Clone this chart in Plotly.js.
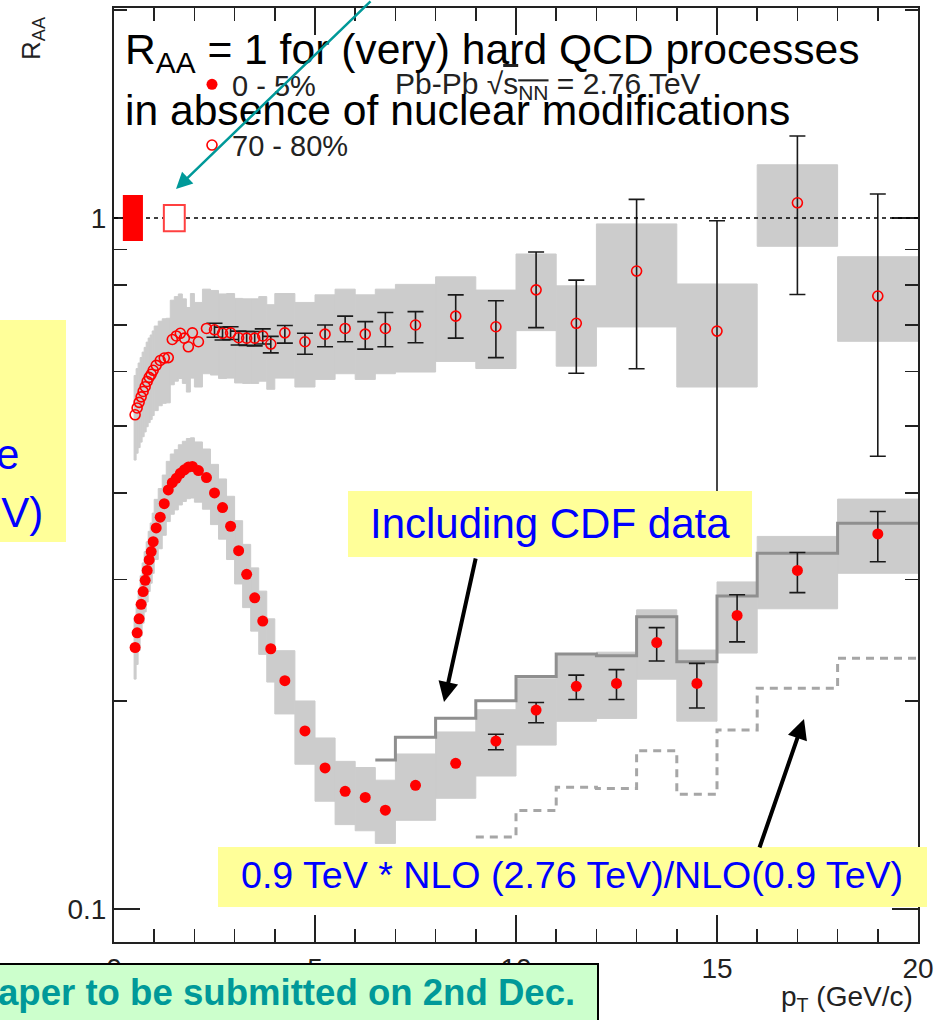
<!DOCTYPE html>
<html><head><meta charset="utf-8">
<script src="https://cdn.plot.ly/plotly-3.0.1.min.js"></script>
<style>html,body{margin:0;padding:0;background:#fff}#chart{width:939px;height:1020px}</style>
</head><body><div id="chart"></div>
<script>
// ---------- data ----------
const _ = NaN; // no visible statistical error bar
const ptCentral = [0.525,0.575,0.625,0.675,0.725,0.775,0.825,0.875,0.925,0.975,
  1.05,1.15,1.25,1.35,1.45,1.55,1.65,1.75,1.85,1.95,
  2.1,2.3,2.5,2.7,2.9,3.1,3.3,3.5,3.7,3.9,
  4.25,4.75,5.25,5.75,6.25,6.75,
  7.5,8.5,9.5,10.5,11.5,12.5,13.5,14.5,15.5,17,19];
const binWidthCentral = [0.05,0.05,0.05,0.05,0.05,0.05,0.05,0.05,0.05,0.05,
  0.1,0.1,0.1,0.1,0.1,0.1,0.1,0.1,0.1,0.1,
  0.2,0.2,0.2,0.2,0.2,0.2,0.2,0.2,0.2,0.2,
  0.5,0.5,0.5,0.5,0.5,0.5,
  1,1,1,1,1,1,1,1,1,2,2];
const raaCentral = [0.239,0.251,0.263,0.276,0.288,0.299,0.309,0.320,0.329,0.340,
  0.356,0.369,0.386,0.404,0.414,0.420,0.427,0.432,0.436,0.437,
  0.431,0.421,0.400,0.381,0.358,0.330,0.305,0.282,0.261,0.238,
  0.214,0.181,0.160,0.148,0.145,0.139,
  0.151,0.1625,0.175,0.194,0.210,0.212,0.243,0.212,0.266,0.309,0.349];
const statCentralUp = [_,_,_,_,_,_,_,_,_,_,
  _,_,_,_,_,_,_,_,_,_,
  _,_,_,_,_,_,_,_,_,_,
  _,_,_,_,_,_,
  _,_,0.004,0.005,0.008,0.010,0.0124,0.0147,0.019,0.019,0.027];
const statCentralDown = [_,_,_,_,_,_,_,_,_,_,
  _,_,_,_,_,_,_,_,_,_,
  _,_,_,_,_,_,_,_,_,_,
  _,_,_,_,_,_,
  _,_,0.005,0.008,0.009,0.011,0.0145,0.0166,0.0225,0.022,0.031];
const sysCentralRel = [0.10,0.10,0.10,0.10,0.10,0.10,0.10,0.10,0.10,0.10,
  0.10,0.10,0.10,0.10,0.10,0.10,0.10,0.10,0.10,0.10,
  0.10,0.10,0.10,0.10,0.105,0.105,0.105,0.105,0.105,0.105,
  0.105,0.105,0.105,0.105,0.105,0.105,
  0.11,0.11,0.11,0.11,0.11,0.11,0.115,0.118,0.118,0.12,0.123];

const ptPeripheral = [0.525,0.575,0.625,0.675,0.725,0.775,0.825,0.875,0.925,0.975,
  1.05,1.15,1.25,1.35,1.45,1.55,1.65,1.75,1.85,1.95,
  2.1,2.3,2.5,2.7,2.9,3.1,3.3,3.5,3.7,3.9,
  4.25,4.75,5.25,5.75,6.25,6.75,
  7.5,8.5,9.5,10.5,11.5,13,15,17,19];
const binWidthPeripheral = [0.05,0.05,0.05,0.05,0.05,0.05,0.05,0.05,0.05,0.05,
  0.1,0.1,0.1,0.1,0.1,0.1,0.1,0.1,0.1,0.1,
  0.2,0.2,0.2,0.2,0.2,0.2,0.2,0.2,0.2,0.2,
  0.5,0.5,0.5,0.5,0.5,0.5,
  1,1,1,1,1,2,2,2,2];
const raaPeripheral = [0.519,0.531,0.541,0.551,0.561,0.570,0.580,0.588,0.594,0.602,
  0.612,0.622,0.627,0.628,0.667,0.675,0.681,0.670,0.651,0.682,
  0.662,0.692,0.689,0.681,0.682,0.671,0.670,0.670,0.675,0.657,
  0.682,0.662,0.679,0.692,0.679,0.692,
  0.700,0.721,0.696,0.787,0.704,0.838,0.686,1.052,0.771];
const statPeripheralUp = [_,_,_,_,_,_,_,_,_,_,
  _,_,_,_,_,_,_,_,_,_,
  _,_,0.015,0.014,0.014,0.015,0.015,0.015,0.016,0.017,
  0.017,0.019,0.021,0.029,0.029,0.038,
  0.032,0.053,0.063,0.106,0.109,0.226,0.305,0.262,0.312];
const statPeripheralDown = [_,_,_,_,_,_,_,_,_,_,
  _,_,_,_,_,_,_,_,_,_,
  _,_,0.017,0.015,0.015,0.016,0.016,0.017,0.018,0.019,
  0.023,0.027,0.028,0.030,0.033,0.041,
  0.040,0.051,0.068,0.093,0.108,0.233,0.305,0.277,0.319];
const sysPeripheralRel = [0.14,0.14,0.14,0.14,0.14,0.14,0.14,0.14,0.14,0.14,
  0.14,0.14,0.14,0.14,0.14,0.14,0.14,0.14,0.14,0.14,
  0.14,0.14,0.14,0.14,0.14,0.14,0.14,0.14,0.14,0.14,
  0.14,0.14,0.14,0.14,0.14,0.14,
  0.145,0.14,0.13,0.127,0.133,0.17,0.17,0.135,0.14];

// reference curves (step histograms, bin edges + bin values)
const cdfEdges = [6.5,7,8,9,10,11,12,13,14,15,16,18,20];
const cdfRef = [0.1643,0.1772,0.1888,0.2001,0.2169,0.2339,0.2326,0.2649,0.2279,0.2838,0.3271,0.3615];
const nloEdges = [9,10,11,12,13,14,15,16,18,20];
const nloRef = [0.1271,0.1388,0.150,0.1494,0.1694,0.1466,0.1816,0.2087,0.2305];

// normalisation uncertainty boxes at R_AA = 1
const normX = [0.47, 1.5];
const normWidth = [0.5, 0.52];
const normLo = [0.926, 0.957];
const normHi = [1.08, 1.044];

const xTickVals = [0,5,10,15,20];
const yTickVals = [0.1, 1];
const yTickText = ['0.1', '1'];
const yMinorVals = [0.2,0.3,0.4,0.5,0.6,0.7,0.8,0.9,2];

// ---------- helpers ----------
const FONT = 'Liberation Sans, Arial, Helvetica, sans-serif';
const L = 114, R = 918, T = 8, B = 942;
const PX = p => (p - L) / (R - L);
const PY = p => (B - p) / (B - T);

function sysBars(x, w, v, rel) {
  return {
    type: 'bar', x: x, width: w,
    base: v.map((d, i) => d * (1 - rel[i])),
    y: v.map((d, i) => 2 * d * rel[i]),
    marker: {color: '#cccccc', line: {width: 1, color: '#cccccc'}},
    showlegend: false, hoverinfo: 'skip'
  };
}
function stepY(vals) { return vals.concat([vals[vals.length - 1]]); }

const traces = [
  sysBars(ptPeripheral, binWidthPeripheral, raaPeripheral, sysPeripheralRel),
  sysBars(ptCentral, binWidthCentral, raaCentral, sysCentralRel),
  {type: 'scatter', mode: 'lines', x: cdfEdges, y: stepY(cdfRef),
   line: {shape: 'hv', color: '#8f8f8f', width: 3}, showlegend: false, hoverinfo: 'skip'},
  {type: 'scatter', mode: 'lines', x: nloEdges, y: stepY(nloRef),
   line: {shape: 'hv', color: '#a6a6a6', width: 3, dash: '8px,6px'}, showlegend: false, hoverinfo: 'skip'},
  {type: 'scatter', mode: 'markers', name: '0 - 5%', legendgroup: 'c',
   x: ptCentral, y: raaCentral,
   error_y: {type: 'data', symmetric: false, array: statCentralUp, arrayminus: statCentralDown,
             color: '#1a1a1a', thickness: 1.6, width: 8},
   marker: {symbol: 'circle', size: 11, color: '#ff0000'}},
  {type: 'scatter', mode: 'markers', name: '70 - 80%', legendgroup: 'p',
   x: ptPeripheral, y: raaPeripheral,
   error_y: {type: 'data', symmetric: false, array: statPeripheralUp, arrayminus: statPeripheralDown,
             color: '#1a1a1a', thickness: 1.6, width: 8},
   marker: {symbol: 'circle-open', size: 10, color: '#ff0000', line: {width: 1.6, color: '#ff0000'}}}
];

const shapes = [
  {type: 'line', xref: 'x', yref: 'y', x0: 0, x1: 20, y0: 1, y1: 1, layer: 'above',
   line: {color: '#000', width: 1.5, dash: '4px,4px'}},
  {type: 'rect', xref: 'x', yref: 'y', layer: 'above',
   x0: normX[0] - normWidth[0] / 2, x1: normX[0] + normWidth[0] / 2, y0: normLo[0], y1: normHi[0],
   fillcolor: '#ff0000', line: {width: 0}},
  {type: 'rect', xref: 'x', yref: 'y', layer: 'above',
   x0: normX[1] - normWidth[1] / 2, x1: normX[1] + normWidth[1] / 2, y0: normLo[1], y1: normHi[1],
   fillcolor: '#ffffff', line: {width: 2, color: '#ff4040'}},
  // text boxes
  {type: 'rect', xref: 'paper', yref: 'paper', layer: 'above',
   x0: PX(-20), x1: PX(66), y0: PY(542), y1: PY(320), fillcolor: '#ffff99', line: {width: 0}},
  {type: 'rect', xref: 'paper', yref: 'paper', layer: 'above',
   x0: PX(348), x1: PX(752), y0: PY(557), y1: PY(491), fillcolor: '#ffff99', line: {width: 0}},
  {type: 'rect', xref: 'paper', yref: 'paper', layer: 'above',
   x0: PX(218), x1: PX(927), y0: PY(907), y1: PY(847), fillcolor: '#ffff99', line: {width: 0}},
  {type: 'rect', xref: 'paper', yref: 'paper', layer: 'above',
   x0: PX(-20), x1: PX(598), y0: PY(1040), y1: PY(964), fillcolor: '#ccffcc',
   line: {width: 2, color: '#000'}}
];

function txt(text, px, py, size, color, opts) {
  return Object.assign({
    xref: 'paper', yref: 'paper', x: PX(px), y: PY(py), text: text, showarrow: false,
    xanchor: 'left', yanchor: 'middle', font: {family: FONT, size: size, color: color}
  }, opts || {});
}
function arrow(hx, hy, tx, ty, color, width, size) {
  return {xref: 'paper', yref: 'paper', x: PX(hx), y: PY(hy), ax: tx - hx, ay: ty - hy,
    text: '', showarrow: true, arrowhead: 2, arrowsize: size, arrowwidth: width,
    arrowcolor: color, standoff: 0, startstandoff: 0};
}

const annotations = [
  txt('R<sub>AA</sub>', 32, 38, 26, '#222', {xanchor: 'center', textangle: -90}),
  txt('p<sub>T</sub> (GeV/c)', 915, 998, 28, '#222', {xanchor: 'right'}),
  txt('Pb-Pb √<span style="text-decoration:overline">s<sub>NN</sub></span> = 2.76 TeV', 393, 86, 30, '#222'),
  txt('R<sub>AA</sub> = 1 for (very) hard QCD processes', 123, 52, 42.6, '#000'),
  txt('in absence of nuclear modifications', 123, 110, 42.6, '#000'),
  txt('e', 21, 455, 42, '#0000ff', {xanchor: 'right'}),
  txt('eV)', 45, 512, 42, '#0000ff', {xanchor: 'right'}),
  txt('Including CDF data', 550, 523, 42, '#0000ff', {xanchor: 'center'}),
  txt('0.9 TeV * NLO (2.76 TeV)/NLO(0.9 TeV)', 572, 875, 37.6, '#0000ff', {xanchor: 'center'}),
  txt('<b>aper to be submitted on 2nd Dec.</b>', 577, 992, 36.6, '#009999', {xanchor: 'right'}),
  arrow(444, 702, 476, 557, '#000', 4, 1),
  arrow(804, 719, 759, 849, '#000', 4, 1),
  arrow(176, 189, 372, -4, '#009999', 2.5, 1.3)
];

const layout = {
  width: 939, height: 1020,
  margin: {l: L, r: 939 - R, t: T, b: 1020 - B, pad: 0},
  paper_bgcolor: '#ffffff', plot_bgcolor: '#ffffff',
  barmode: 'overlay', hovermode: false,
  font: {family: FONT, color: '#222'},
  showlegend: true,
  legend: {x: PX(192), y: PY(59), xanchor: 'left', yanchor: 'top', bgcolor: 'rgba(0,0,0,0)',
    font: {family: FONT, size: 29, color: '#222'}, traceorder: 'grouped', tracegroupgap: 20,
    itemsizing: 'trace'},
  xaxis: {range: [0, 20], tickmode: 'array', tickvals: xTickVals, ticks: 'inside', ticklen: 27,
    tickwidth: 1.5, tickcolor: '#222', showline: true, linewidth: 2, linecolor: '#222',
    mirror: 'ticks', showgrid: false, zeroline: false,
    tickfont: {family: FONT, size: 28, color: '#222'},
    minor: {dtick: 1, tick0: 0, ticks: 'inside', ticklen: 13, tickwidth: 1.5, tickcolor: '#222', showgrid: false}},
  yaxis: {type: 'log', range: [-1.0478, 0.3039], tickmode: 'array', tickvals: yTickVals, ticktext: yTickText,
    ticks: 'inside', ticklen: 26, tickwidth: 1.5, tickcolor: '#222', showline: true, linewidth: 2,
    linecolor: '#222', mirror: 'ticks', showgrid: false, zeroline: false,
    tickfont: {family: FONT, size: 28, color: '#222'},
    minor: {tickmode: 'array', tickvals: yMinorVals, ticks: 'inside', ticklen: 13, tickwidth: 1.5,
      tickcolor: '#222', showgrid: false}},
  shapes: shapes,
  annotations: annotations
};

Plotly.newPlot('chart', traces, layout, {staticPlot: true, displayModeBar: false});
</script>
</body></html>
